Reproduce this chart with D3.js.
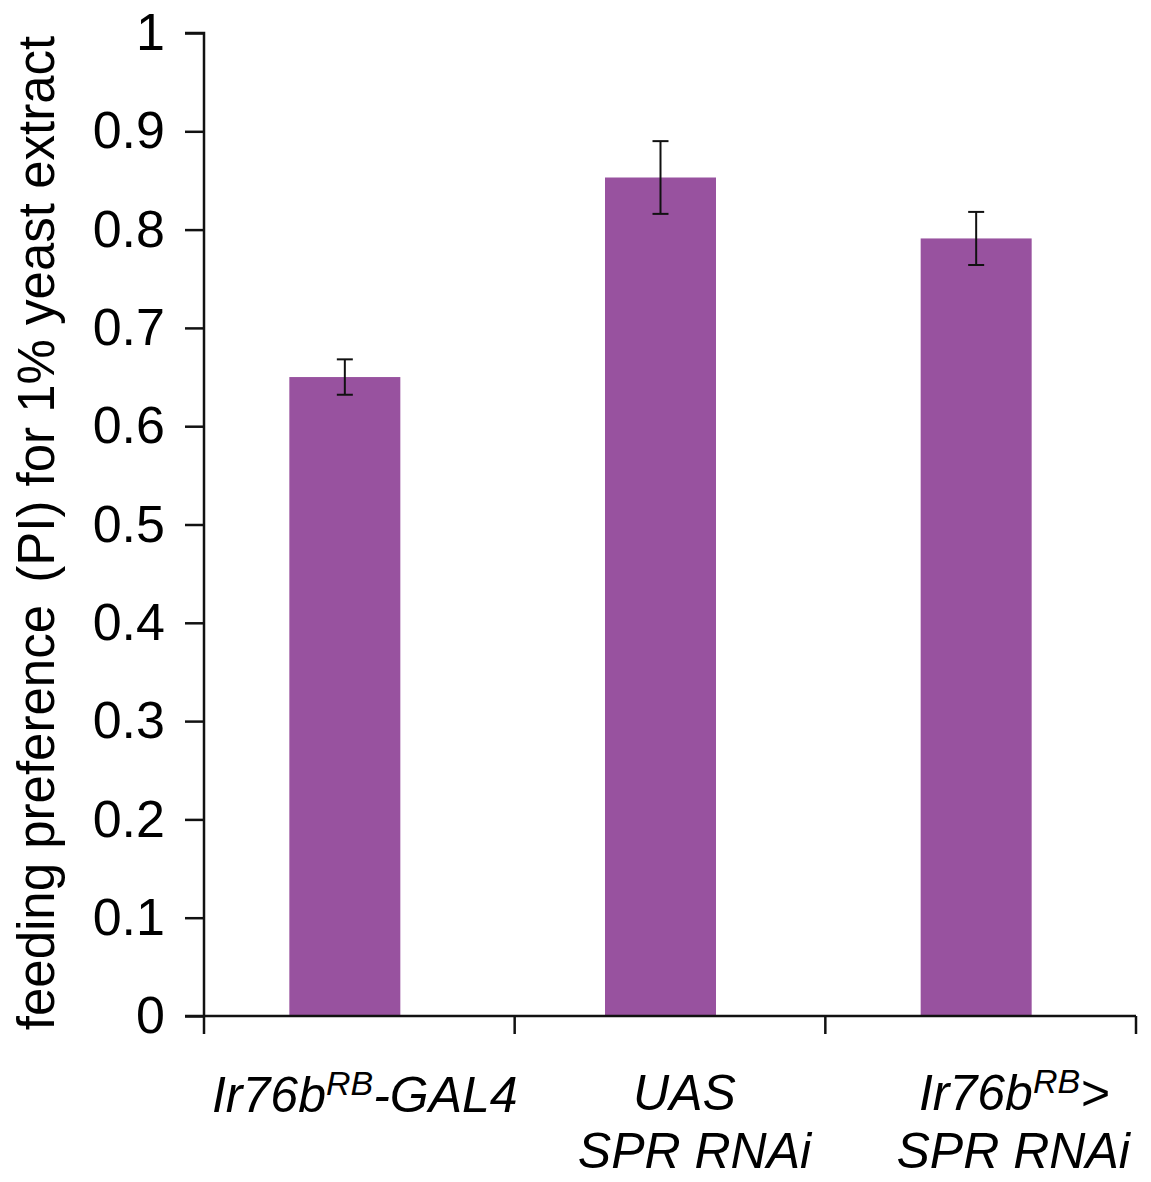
<!DOCTYPE html>
<html><head><meta charset="utf-8">
<script src="https://cdn.jsdelivr.net/npm/d3@7"></script>
<style>body{margin:0;background:#fff}svg{display:block}text{font-family:"Liberation Sans",Arial,sans-serif}</style>
</head><body>
<svg id="c" width="1151" height="1182"></svg>
<script>
const categories = ["Ir76b-GAL4", "UAS SPR RNAi", "Ir76b>SPR RNAi"];
const values = [0.650, 0.853, 0.791];
const errors = [0.018, 0.037, 0.027];
const yTicks = [0, 0.1, 0.2, 0.3, 0.4, 0.5, 0.6, 0.7, 0.8, 0.9, 1];
const yTickLabels = ["0", "0.1", "0.2", "0.3", "0.4", "0.5", "0.6", "0.7", "0.8", "0.9", "1"];
const yTitleParts = ["feeding preference", "(PI) for 1% yeast extract"];

(function () {
const svg = d3.select("#c");
const pLeft = 204, pRight = 1136, pTop = 33, pBottom = 1016;
const xTicks = d3.scaleBand().domain(categories).range([pLeft, pRight]).padding(0);
const xBars = d3.scaleBand().domain(categories).range([187, 1134]).padding(0);
const y = d3.scaleLinear().domain([0, 1]).range([pBottom, pTop]);
const barW = 111;
const color = "#98529f";
const cxOf = c => xBars(c) + xBars.bandwidth()/2;

// bars
svg.append("g").selectAll("rect").data(categories).join("rect")
  .attr("x", d => cxOf(d) - barW/2)
  .attr("y", (d, i) => y(values[i]))
  .attr("width", barW)
  .attr("height", (d, i) => y(0) - y(values[i]))
  .attr("fill", color);

// error bars
const eg = svg.append("g").attr("stroke", "#111").attr("stroke-width", 2);
categories.forEach((c, i) => {
  const cx = cxOf(c);
  const hi = y(values[i] + errors[i]), lo = y(values[i] - errors[i]);
  eg.append("line").attr("x1", cx).attr("x2", cx).attr("y1", hi).attr("y2", lo);
  eg.append("line").attr("x1", cx - 8).attr("x2", cx + 8).attr("y1", hi).attr("y2", hi);
  eg.append("line").attr("x1", cx - 8).attr("x2", cx + 8).attr("y1", lo).attr("y2", lo);
});

// y axis
const yAxis = d3.axisLeft(y).tickValues(yTicks).tickFormat((d, i) => yTickLabels[i]).tickSize(19).tickPadding(20);
const ya = svg.append("g").attr("transform", `translate(${pLeft},0)`).call(yAxis);
ya.select(".domain").attr("stroke", "#111").attr("stroke-width", 2.5).attr("d", `M-19,${pTop}H0V${pBottom}`);
ya.selectAll(".tick line").attr("stroke", "#111").attr("stroke-width", 2.5);
ya.selectAll(".tick text").attr("font-size", 52).attr("fill", "#000").attr("font-family", "Liberation Sans, Arial, sans-serif");

// x axis
const boundaries = categories.map(c => xTicks(c)).concat([pRight]);
const xa = svg.append("g");
xa.append("line").attr("x1", pLeft - 19).attr("x2", pRight).attr("y1", pBottom).attr("y2", pBottom)
  .attr("stroke", "#111").attr("stroke-width", 2.5);
xa.selectAll("line.t").data(boundaries).join("line").attr("class", "t")
  .attr("x1", d => d).attr("x2", d => d).attr("y1", pBottom).attr("y2", pBottom + 18)
  .attr("stroke", "#111").attr("stroke-width", 2.5);

// x labels
const lab = svg.append("g").attr("font-size", 50).attr("font-style", "italic").attr("text-anchor", "middle").attr("fill", "#000");
function sup(t, base, s, rest) {
  t.append("tspan").text(base);
  t.append("tspan").text(s).attr("font-size", 34).attr("dy", -17);
  t.append("tspan").text(rest).attr("dy", 17);
}
const cx0 = cxOf(categories[0]);
const cx1 = cxOf(categories[1]);
const cx2 = cxOf(categories[2]);
sup(lab.append("text").attr("x", cx0 + 20).attr("y", 1112), "Ir76b", "RB", "-GAL4");
lab.append("text").attr("x", cx1 + 24).attr("y", 1110).text("UAS");
lab.append("text").attr("x", cx1 + 34).attr("y", 1168).text("SPR RNAi");
sup(lab.append("text").attr("x", cx2 + 38).attr("y", 1110), "Ir76b", "RB", ">");
lab.append("text").attr("x", cx2 + 37).attr("y", 1168).text("SPR RNAi");

// y title
const tt = svg.append("text").attr("transform", `translate(54,533) rotate(-90)`)
  .attr("text-anchor", "middle").attr("font-size", 51).attr("fill", "#000");
tt.append("tspan").text(yTitleParts[0]);
tt.append("tspan").attr("dx", 8).text(" " + yTitleParts[1]);
})();
</script>
</body></html>
